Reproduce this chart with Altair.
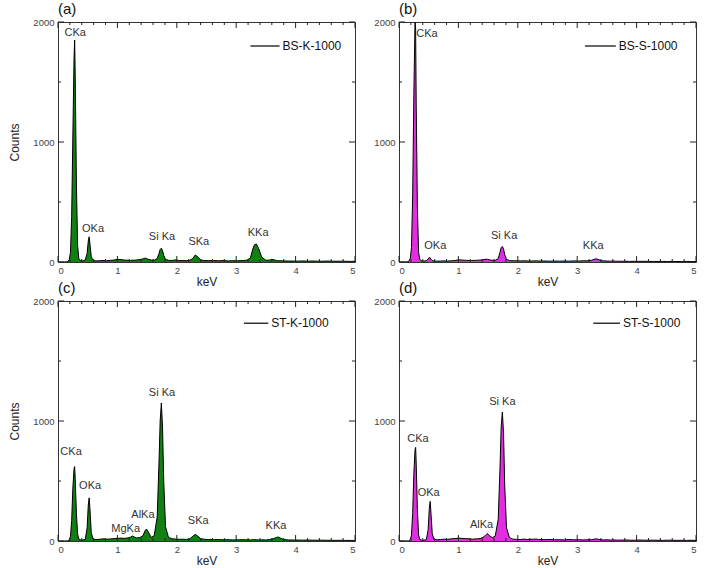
import altair as alt
import pandas as pd

# ---------------- data ----------------
kev = [0.00, 0.10, 0.16, 0.19, 0.21, 0.23, 0.25, 0.27, 0.28, 0.29,
       0.31, 0.33, 0.35, 0.38, 0.42, 0.46, 0.49, 0.51, 0.525, 0.54,
       0.56, 0.59, 0.64, 0.70, 0.76, 0.82, 0.88, 0.94, 1.00, 1.06,
       1.12, 1.18, 1.22, 1.25, 1.28, 1.32, 1.38, 1.43, 1.47, 1.49,
       1.52, 1.57, 1.62, 1.67, 1.70, 1.72, 1.74, 1.76, 1.78, 1.81,
       1.86, 1.92, 1.98, 2.04, 2.10, 2.16, 2.22, 2.27, 2.31, 2.35,
       2.40, 2.46, 2.54, 2.62, 2.70, 2.78, 2.86, 2.94, 3.02, 3.10,
       3.18, 3.24, 3.28, 3.31, 3.34, 3.38, 3.43, 3.50, 3.56, 3.60,
       3.64, 3.68, 3.71, 3.74, 3.80, 3.88, 3.96, 4.04, 4.12, 4.20,
       4.28, 4.36, 4.44, 4.52, 4.60, 4.68, 4.76, 4.84, 4.92, 5.00]

bs_k_1000 = [0, 0, 2, 20, 80, 380, 1050, 1700, 1850, 1550,
             650, 140, 30, 12, 8, 18, 70, 175, 210, 140,
             45, 12, 9, 11, 13, 10, 14, 16, 22, 20,
             16, 15, 13, 16, 14, 17, 20, 26, 32, 30,
             22, 16, 15, 30, 70, 105, 115, 95, 55, 22,
             14, 13, 18, 12, 13, 11, 14, 30, 58, 45,
             18, 12, 11, 13, 10, 12, 9, 11, 10, 12,
             15, 35, 110, 145, 150, 110, 40, 14, 16, 22,
             18, 12, 10, 11, 9, 8, 8, 7, 9, 7,
             8, 7, 6, 8, 7, 6, 7, 6, 5, 6]

bs_s_1000 = [0, 0, 3, 30, 120, 550, 1400, 2000, 1950, 1300,
             450, 80, 20, 10, 8, 10, 25, 38, 35, 22,
             12, 8, 7, 8, 9, 8, 10, 12, 18, 16,
             14, 13, 12, 14, 13, 15, 16, 20, 24, 22,
             18, 14, 14, 28, 80, 120, 130, 110, 60, 22,
             12, 10, 11, 9, 10, 9, 8, 9, 10, 8,
             9, 8, 7, 8, 7, 8, 7, 9, 8, 10,
             10, 14, 22, 26, 24, 16, 10, 8, 7, 8,
             7, 6, 7, 6, 6, 5, 6, 5, 6, 5,
             5, 4, 5, 4, 5, 4, 4, 5, 4, 4]

st_k_1000 = [0, 0, 1, 8, 40, 170, 440, 600, 620, 520,
             230, 60, 15, 10, 8, 14, 110, 300, 360, 250,
             70, 16, 12, 14, 18, 15, 17, 20, 22, 24,
             22, 26, 32, 42, 34, 26, 28, 45, 90, 100,
             75, 30, 45, 200, 650, 1000, 1150, 950, 500, 120,
             30, 18, 16, 14, 15, 13, 18, 40, 55, 42,
             20, 14, 12, 11, 12, 10, 11, 9, 10, 11,
             10, 9, 11, 12, 10, 9, 10, 8, 12, 16,
             22, 30, 33, 25, 12, 9, 8, 8, 7, 8,
             7, 6, 7, 6, 6, 5, 6, 5, 5, 4]

st_s_1000 = [0, 0, 1, 10, 50, 230, 560, 760, 780, 640,
             260, 50, 12, 8, 6, 12, 90, 270, 330, 220,
             60, 14, 10, 12, 15, 14, 18, 20, 24, 22,
             20, 18, 16, 15, 17, 18, 22, 35, 55, 62,
             45, 28, 40, 180, 600, 950, 1075, 900, 460, 110,
             28, 15, 14, 12, 16, 12, 14, 15, 16, 13,
             12, 11, 13, 10, 11, 9, 12, 10, 11, 9,
             10, 11, 14, 18, 16, 12, 9, 10, 8, 9,
             8, 7, 8, 7, 9, 7, 6, 8, 7, 6,
             7, 6, 5, 7, 6, 5, 6, 5, 6, 5]

# peak labels: (text, keV, counts)
labels_a = [("CKa", 0.29, 1908), ("OKa", 0.59, 275), ("Si Ka", 1.75, 210),
            ("SKa", 2.37, 165), ("KKa", 3.37, 240)]
labels_b = [("CKa", 0.47, 1900), ("OKa", 0.61, 133), ("Si Ka", 1.77, 217),
            ("KKa", 3.27, 133)]
labels_c = [("CKa", 0.22, 742), ("OKa", 0.54, 458), ("MgKa", 1.14, 100),
            ("AlKa", 1.43, 217), ("Si Ka", 1.75, 1233), ("SKa", 2.36, 167),
            ("KKa", 3.67, 125)]
labels_d = [("CKa", 0.32, 850), ("OKa", 0.50, 400), ("AlKa", 1.39, 133),
            ("Si Ka", 1.74, 1158)]

# legend entries: (name, line start keV, line end keV, counts)
legend_a = ("BS-K-1000", 3.24, 3.73, 1800)
legend_b = ("BS-S-1000", 3.13, 3.65, 1800)
legend_c = ("ST-K-1000", 3.13, 3.54, 1815)
legend_d = ("ST-S-1000", 3.27, 3.72, 1815)

panel_tags = ["(a)", "(b)", "(c)", "(d)"]

x_major = [0, 1, 2, 3, 4, 5]
x_minor = [0.2, 0.4, 0.6, 0.8, 1.2, 1.4, 1.6, 1.8, 2.2, 2.4, 2.6, 2.8,
           3.2, 3.4, 3.6, 3.8, 4.2, 4.4, 4.6, 4.8]
y_major = [0, 1000, 2000]
y_minor = [500, 1500]

GREEN = "#127f12"
MAGENTA = "#e02ee0"
W, H = 297, 240
FONT = "Liberation Sans"

df = pd.DataFrame({"keV": kev, "BS-K-1000": bs_k_1000, "BS-S-1000": bs_s_1000,
                   "ST-K-1000": st_k_1000, "ST-S-1000": st_s_1000})

xscale = alt.Scale(domain=[0, 5], nice=False, zero=False)
yscale = alt.Scale(domain=[0, 2000], nice=False)


def panel(col, color, tag, labels, legend, ytitle):
    xaxis = alt.Axis(values=x_major, title="keV", format="d", grid=False,
                     ticks=False, domain=False)
    if ytitle:
        yaxis = alt.Axis(values=y_major, title="Counts", format="d", titlePadding=11,
                         grid=False, ticks=False, domain=False)
    else:
        yaxis = alt.Axis(values=y_major, title="", format="d", grid=False,
                         ticks=False, domain=False)

    base = alt.Chart(df)
    area = base.mark_area(color=color, clip=True, opacity=1).encode(
        x=alt.X("keV:Q", scale=xscale, axis=xaxis),
        y=alt.Y(f"{col}:Q", scale=yscale, axis=yaxis),
    )
    line = base.mark_line(color="black", strokeWidth=1, clip=True).encode(
        x="keV:Q", y=f"{col}:Q",
    )
    lab_df = pd.DataFrame(labels, columns=["t", "x", "y"])
    texts = alt.Chart(lab_df).mark_text(fontSize=11, color="#333", font=FONT).encode(
        x="x:Q", y="y:Q", text="t:N")

    name, lx1, lx2, ly = legend
    leg_df = pd.DataFrame({"name": [name], "x1": [lx1], "x2": [lx2], "y": [ly],
                           "xt": [lx2 + 0.05]})
    leg_line = alt.Chart(leg_df).mark_rule(color="black", strokeWidth=1.2).encode(
        x="x1:Q", x2="x2:Q", y="y:Q")
    leg_text = alt.Chart(leg_df).mark_text(fontSize=12, color="#111", align="left",
                                           font=FONT).encode(
        x="xt:Q", y="y:Q", text="name:N")

    tag_df = pd.DataFrame({"tag": [tag]})
    tag_text = alt.Chart(tag_df).mark_text(fontSize=15, color="#111", align="left",
                                           baseline="bottom", font=FONT).encode(
        x=alt.value(0), y=alt.value(-5), text="tag:N")

    xmj = pd.DataFrame({"v": x_major})
    xmn = pd.DataFrame({"v": x_minor})
    ymj = pd.DataFrame({"v": y_major})
    ymn = pd.DataFrame({"v": y_minor})
    tick_layers = []
    for d, ln in ((xmj, 6), (xmn, 3)):
        tick_layers.append(alt.Chart(d).mark_rule(color="#222", strokeWidth=1).encode(
            x="v:Q", y=alt.value(H), y2=alt.value(H - ln)))
        tick_layers.append(alt.Chart(d).mark_rule(color="#222", strokeWidth=1).encode(
            x="v:Q", y=alt.value(0), y2=alt.value(ln)))
    for d, ln in ((ymj, 6), (ymn, 3)):
        tick_layers.append(alt.Chart(d).mark_rule(color="#222", strokeWidth=1).encode(
            y="v:Q", x=alt.value(0), x2=alt.value(ln)))
        tick_layers.append(alt.Chart(d).mark_rule(color="#222", strokeWidth=1).encode(
            y="v:Q", x=alt.value(W), x2=alt.value(W - ln)))

    return alt.layer(area, line, texts, leg_line, leg_text, tag_text,
                     *tick_layers).properties(width=W, height=H)


pa = panel("BS-K-1000", GREEN, panel_tags[0], labels_a, legend_a, True)
pb = panel("BS-S-1000", MAGENTA, panel_tags[1], labels_b, legend_b, False)
pc = panel("ST-K-1000", GREEN, panel_tags[2], labels_c, legend_c, True)
pd_ = panel("ST-S-1000", MAGENTA, panel_tags[3], labels_d, legend_d, False)

chart = alt.concat(pa, pb, pc, pd_, columns=2,
                   spacing=alt.RowColnumber(row=39, column=44),
                   bounds="flush").properties(
    padding={"left": 8, "top": 1, "right": 2, "bottom": 2},
    background="white",
).configure(font=FONT).configure_view(
    stroke="#333", strokeWidth=1
).configure_axis(
    grid=False, ticks=False, tickSize=0, domain=False,
    labelFont=FONT, labelFontSize=9.5, labelColor="#444", labelPadding=4,
    titleFont=FONT, titleFontSize=12, titleFontWeight="normal", titleColor="#222",
).configure_axisX(labelPadding=3, titlePadding=2)

chart.save("out.html", embed_options={"renderer": "svg", "actions": False})
